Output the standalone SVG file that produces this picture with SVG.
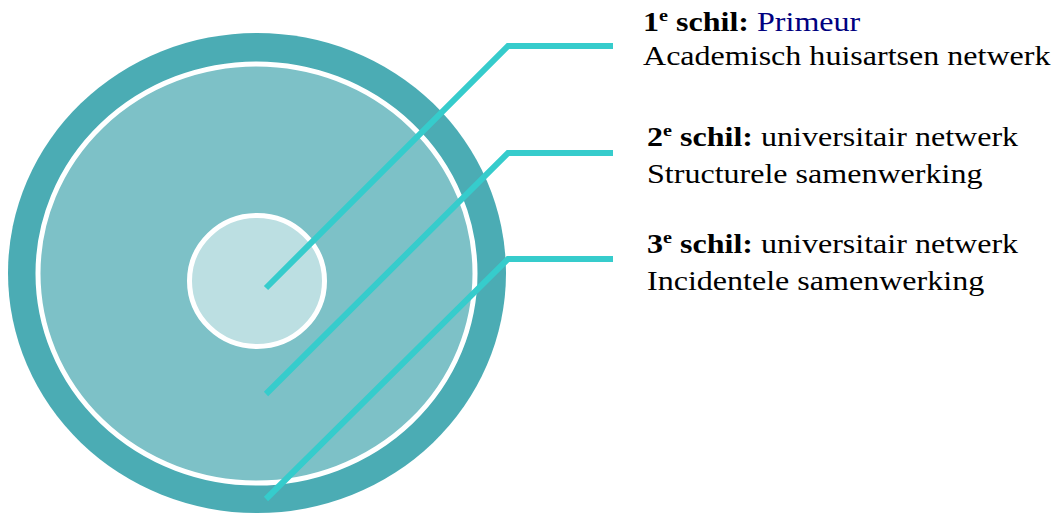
<svg xmlns="http://www.w3.org/2000/svg" width="1057" height="517" viewBox="0 0 1057 517">
<style>
.t{font-family:"Liberation Serif","Times New Roman",serif;font-size:27px;fill:#000}
.b{font-weight:bold}
.sup{font-size:17px;font-weight:bold}
.blue{fill:#000080}
.conn{fill:none;stroke:#36CCCC;stroke-width:6;stroke-linejoin:miter}
</style>
<rect width="1057" height="517" fill="#fff"/>
<g id="shell3"><ellipse cx="257" cy="273" rx="249" ry="240" fill="#4BACB4"/></g>
<g id="shell2"><ellipse cx="256.5" cy="273.5" rx="218.5" ry="209.5" fill="#7DC1C7" stroke="#fff" stroke-width="5"/></g>
<g id="shell1"><ellipse cx="257" cy="281" rx="67.5" ry="65.5" fill="#BCDFE2" stroke="#fff" stroke-width="5"/></g>
<g id="connectors">
<polyline class="conn" points="266,288 508,46 613,46"/>
<polyline class="conn" points="266,394 508,153 613,153"/>
<polyline class="conn" points="266,499 508,259 613,259"/>
</g>
<g id="label1" transform="translate(643,0) scale(1.187,1)">
<text class="t" x="0" y="31"><tspan class="b">1</tspan><tspan class="sup" dy="-10">e</tspan><tspan class="b" dy="10"> schil:</tspan> <tspan class="blue">Primeur</tspan></text>
<text class="t" x="0" y="65">Academisch huisartsen netwerk</text>
</g>
<g id="label2" transform="translate(647,0) scale(1.187,1)">
<text class="t" x="0" y="146"><tspan class="b">2</tspan><tspan class="sup" dy="-10">e</tspan><tspan class="b" dy="10"> schil:</tspan> universitair netwerk</text>
<text class="t" x="0" y="183">Structurele samenwerking</text>
</g>
<g id="label3" transform="translate(647,0) scale(1.187,1)">
<text class="t" x="0" y="253"><tspan class="b">3</tspan><tspan class="sup" dy="-10">e</tspan><tspan class="b" dy="10"> schil:</tspan> universitair netwerk</text>
<text class="t" x="0" y="290">Incidentele samenwerking</text>
</g>
</svg>
